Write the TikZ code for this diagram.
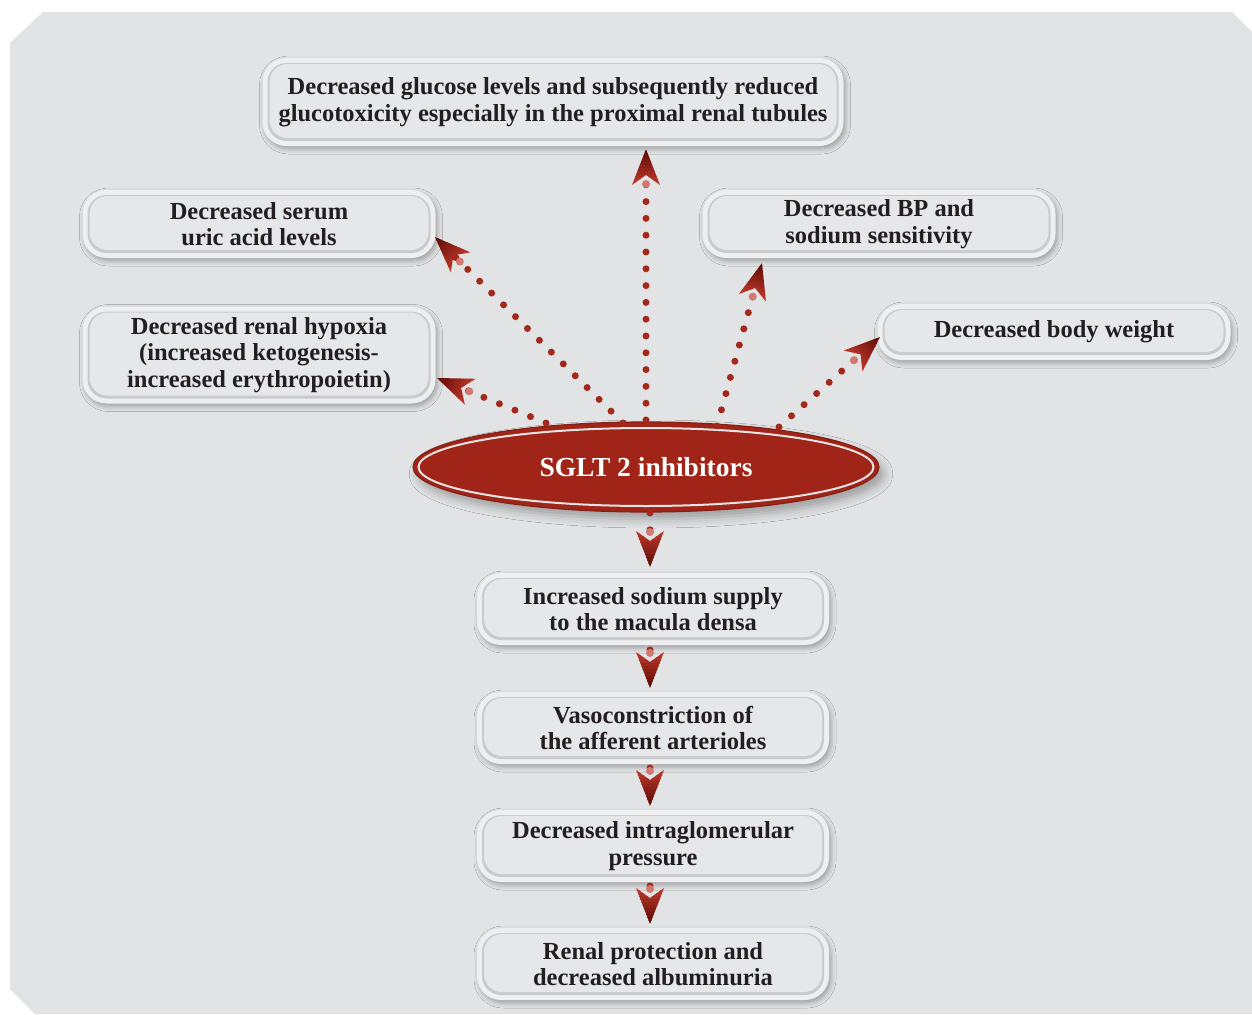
\documentclass[tikz,border=0pt]{standalone}
\usepackage{fontspec}
\setmainfont{Liberation Serif}
\usetikzlibrary{shapes.geometric,arrows.meta,calc,shadows.blur}
\definecolor{bg}{HTML}{E2E3E5}
\definecolor{boxfill}{HTML}{E6E7E9}
\definecolor{ringc}{HTML}{EFEFF0}
\definecolor{innershade}{HTML}{C9CACC}
\definecolor{txt}{HTML}{231F20}
\definecolor{sgred}{HTML}{A02417}
\definecolor{dotred}{HTML}{A3291D}
\definecolor{headlight}{HTML}{C0392B}
\definecolor{headdark}{HTML}{5A0A05}
\definecolor{pinkdot}{HTML}{D27A70}
\begin{document}
\begin{tikzpicture}[x=1pt,y=-1pt,
  box/.style={rectangle, rounded corners=24pt, fill=ringc, inner sep=0pt, align=center, text=txt,
    minimum width=353pt,
    font=\fontsize{24.5}{26.5}\selectfont\bfseries,
    blur shadow={shadow xshift=2pt, shadow yshift=-3pt, shadow blur radius=5pt, shadow opacity=30},
    path picture={
      \fill[innershade, rounded corners=19pt] ([shift={(5pt,5pt)}]path picture bounding box.south west) rectangle ([shift={(-5pt,-5pt)}]path picture bounding box.north east);
      \fill[boxfill, rounded corners=18pt] ([shift={(7pt,8pt)}]path picture bounding box.south west) rectangle ([shift={(-7pt,-6pt)}]path picture bounding box.north east);
    }},
  sgnode/.style={ellipse, minimum width=466pt, minimum height=90pt, inner sep=0pt,
    fill=sgred, draw=sgred!85!black, line width=1.2pt, text=white,
    font=\fontsize{27.5}{30}\selectfont\bfseries,
    blur shadow={shadow xshift=5pt, shadow yshift=-7pt, shadow blur radius=9pt, shadow opacity=30},
    path picture={\draw[white!80!gray, line width=2pt] (path picture bounding box.center) ellipse [x radius=227.5pt, y radius=39pt];}},
  dotline/.style={draw=dotred, line width=7pt, line cap=round, dash pattern=on 0pt off 16.8pt, shorten >=27pt},
  pinkd/.style={fill=pinkdot},
  arrhead/.pic={
    \begin{scope}
      \clip (0pt,0pt) -- (-36pt,14pt) -- (-26pt,0pt) -- (-36pt,-14pt) -- cycle;
      \foreach \k in {0,...,11} {
        \pgfmathsetmacro{\mix}{100-\k*8.5}
        \fill[headlight!\mix!headdark] ({-37pt+3*\k*1pt},-15pt) rectangle ({-33.5pt+3*\k*1pt},15pt);
      }
    \end{scope}
  }
]
\useasboundingbox (0,0) rectangle (1252,1014);
\fill[white] (0,0) rectangle (1252,1014);
\fill[bg] (43,12) -- (1232,12) -- (1252,32) -- (1252,1014) -- (35,1014) -- (10,989) -- (10,43) -- cycle;

% boxes
\node[box, minimum width=581pt, minimum height=88pt] (glu) at (553,102)
  {Decreased glucose levels and subsequently reduced\\glucotoxicity especially in the proximal renal tubules};
\node[box, minimum height=68pt] (uric) at (259,224) {Decreased serum\\uric acid levels};
\node[box, minimum height=68pt] (bp) at (879,224) {Decreased BP and\\sodium sensitivity};
\node[box, minimum height=97pt] (hyp) at (259,355)
  {Decreased renal hypoxia\\(increased ketogenesis-\\increased erythropoietin)};
\node[box, minimum height=56pt] (bw) at (1054,332) {Decreased body weight};
\node[sgnode] (sg) at (646,467) {SGLT 2 inhibitors};
\node[box, minimum width=352pt, minimum height=72pt] (na) at (653,609) {Increased sodium supply\\to the macula densa};
\node[box, minimum width=352pt, minimum height=72pt] (vaso) at (653,728) {Vasoconstriction of\\the afferent arterioles};
\node[box, minimum width=352pt, minimum height=72pt] (igp) at (653,846) {Decreased intraglomerular\\pressure};
\node[box, minimum width=352pt, minimum height=72pt] (ren) at (653,964) {Renal protection and\\decreased albuminuria};

% arrow end points
\coordinate (s1) at (546,423); \coordinate (t1) at (437,378);
\coordinate (s2) at (623,423); \coordinate (t2) at (435,237);
\coordinate (s3) at (646,420); \coordinate (t3) at (646,149);
\coordinate (s4) at (717,426); \coordinate (t4) at (762,263);
\coordinate (s5) at (779,427); \coordinate (t5) at (880,337);
\coordinate (s6) at (650,513); \coordinate (t6) at (650,567);
\coordinate (s7) at (650,650); \coordinate (t7) at (650,688);
\coordinate (s8) at (650,768); \coordinate (t8) at (650,806);
\coordinate (s9) at (650,886); \coordinate (t9) at (650,924);

\foreach \i in {1,...,9} {
  \draw[dotline] (s\i) -- (t\i);
  \path let \p1=($(t\i)-(s\i)$), \n1={atan2(\y1,\x1)} in (t\i) pic[rotate=\n1] {arrhead};
  \fill[pinkd] ($(t\i)!35pt!(s\i)$) circle (4pt);
}
\end{tikzpicture}
\end{document}
